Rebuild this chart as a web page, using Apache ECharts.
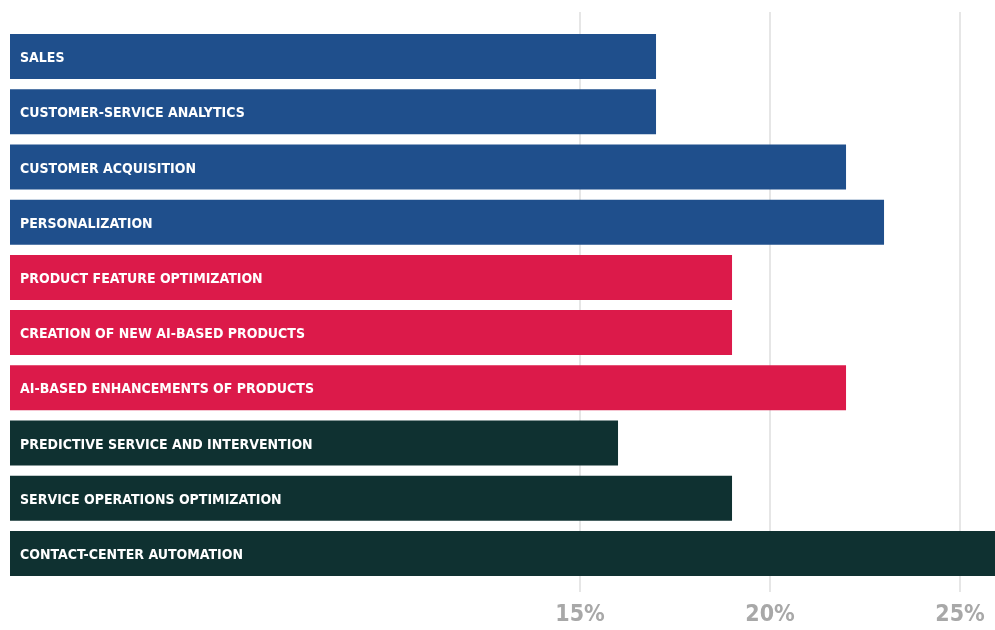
<!DOCTYPE html>
<html>
<head>
<meta charset="utf-8">
<script src="https://cdn.jsdelivr.net/npm/echarts@6/dist/echarts.min.js"></script>
<style>
html,body{margin:0;padding:0;background:#fff;}
#chart{width:995px;height:630px;}
</style>
</head>
<body>
<div id="chart"></div>
<script>
// ---- data ----
const categories = [
  'SALES',
  'CUSTOMER-SERVICE ANALYTICS',
  'CUSTOMER ACQUISITION',
  'PERSONALIZATION',
  'PRODUCT FEATURE OPTIMIZATION',
  'CREATION OF NEW AI-BASED PRODUCTS',
  'AI-BASED ENHANCEMENTS OF PRODUCTS',
  'PREDICTIVE SERVICE AND INTERVENTION',
  'SERVICE OPERATIONS OPTIMIZATION',
  'CONTACT-CENTER AUTOMATION'
];
const values = [17, 17, 22, 23, 19, 19, 22, 16, 19, 26];
const groups = ['sales', 'sales', 'sales', 'sales', 'product', 'product', 'product', 'service', 'service', 'service'];
const tickLabels = [15, 20, 25];

// ---- styles ----
const groupColors = { sales: '#1F4F8C', product: '#DC1A4A', service: '#0F3131' };
const FONT = '"DejaVu Sans Condensed", "Liberation Sans Narrow", sans-serif';
const AXIS_MIN = 0, AXIS_MAX = 25.92, PX_PER_UNIT = 38, LEFT = 10;
const GRID_MIN = 15;

const chart = echarts.init(document.getElementById('chart'), null, { renderer: 'canvas' });

chart.setOption({
  animation: false,
  backgroundColor: '#ffffff',
  grid: [
    { left: LEFT + (GRID_MIN - AXIS_MIN) * PX_PER_UNIT, right: 0, top: 12, bottom: 38, containLabel: false },
    { left: LEFT, right: 0, top: 29, bottom: 49, containLabel: false }
  ],
  xAxis: [
    {
      gridIndex: 0, type: 'value', min: GRID_MIN, max: AXIS_MAX, interval: 5,
      axisLine: { show: false }, axisTick: { show: false },
      splitLine: {
        show: true,
        showMinLine: true,
        showMaxLine: false,
        lineStyle: { color: '#dedede', width: 1.5 }
      },
      axisLabel: {
        margin: 12,
        showMinLabel: true,
        showMaxLabel: false,
        color: '#a8a8a8',
        fontFamily: FONT,
        fontWeight: 'bold',
        fontSize: 23,
        formatter: v => tickLabels.indexOf(v) >= 0 ? v + '%' : ''
      }
    },
    {
      gridIndex: 1, type: 'value', min: AXIS_MIN, max: AXIS_MAX, interval: 5,
      show: false, splitLine: { show: false }
    }
  ],
  yAxis: [
    { gridIndex: 0, type: 'category', data: categories, show: false, inverse: true },
    { gridIndex: 1, type: 'category', data: categories, show: false, inverse: true }
  ],
  series: [
    {
      type: 'bar',
      xAxisIndex: 1, yAxisIndex: 1,
      data: values.map((v, i) => ({ value: v, itemStyle: { color: groupColors[groups[i]] } })),
      barWidth: 45,
      label: {
        show: true,
        position: 'insideLeft',
        distance: 10,
        offset: [0, 2],
        color: '#ffffff',
        fontFamily: FONT,
        fontWeight: 'bold',
        fontSize: 14,
        formatter: p => categories[p.dataIndex]
      }
    }
  ]
});
</script>
</body>
</html>
